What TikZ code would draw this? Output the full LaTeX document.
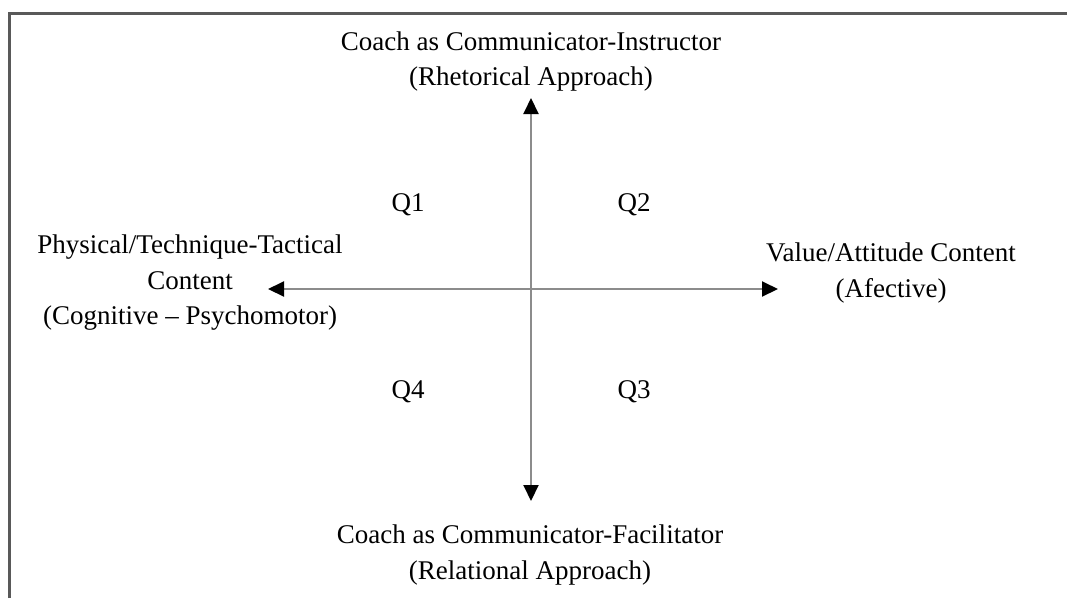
\documentclass[tikz,border=0pt]{standalone}
\usepackage{fontspec}
\setmainfont{Liberation Serif}
\usetikzlibrary{arrows.meta}
\begin{document}
\begin{tikzpicture}[x=1pt,y=-1pt,
  lbl/.style={inner sep=0pt,align=center,font=\fontsize{27}{35.5}\selectfont},
  axis/.style={line width=2pt,draw=black!45,
    {Triangle[length=16pt,width=15pt,color=black]}-{Triangle[length=16pt,width=15pt,color=black]}},
  frame/.style={line width=3pt,draw=black!65}]
\useasboundingbox (0,0) rectangle (1067,598);
\coordinate (fb) at (9.5,598);
\coordinate (fc) at (9.5,13.5);
\coordinate (fr) at (1067,13.5);
\draw[frame] (fb) -- (fc) -- (fr);
\node[lbl] (top) at (531,61.5) {Coach as Communicator-Instructor\\(Rhetorical Approach)};
\node[lbl] (bot) at (530,555) {Coach as Communicator-Facilitator\\(Relational Approach)};
\node[lbl] (lft) at (190,283) {Physical/Technique-Tactical\\Content\\(Cognitive -- Psychomotor)};
\node[lbl] (rgt) at (891,273) {Value/Attitude Content\\(Afective)};
\node[lbl] (q1) at (408,205) {Q1};
\node[lbl] (q2) at (634,205) {Q2};
\node[lbl] (q4) at (408,392) {Q4};
\node[lbl] (q3) at (634,392) {Q3};
\coordinate (t) at (531,98);
\coordinate (b) at (531,501);
\coordinate (l) at (268,289);
\coordinate (r) at (778,289);
\draw[axis] (t) -- (b);
\draw[axis] (l) -- (r);
\end{tikzpicture}
\end{document}
